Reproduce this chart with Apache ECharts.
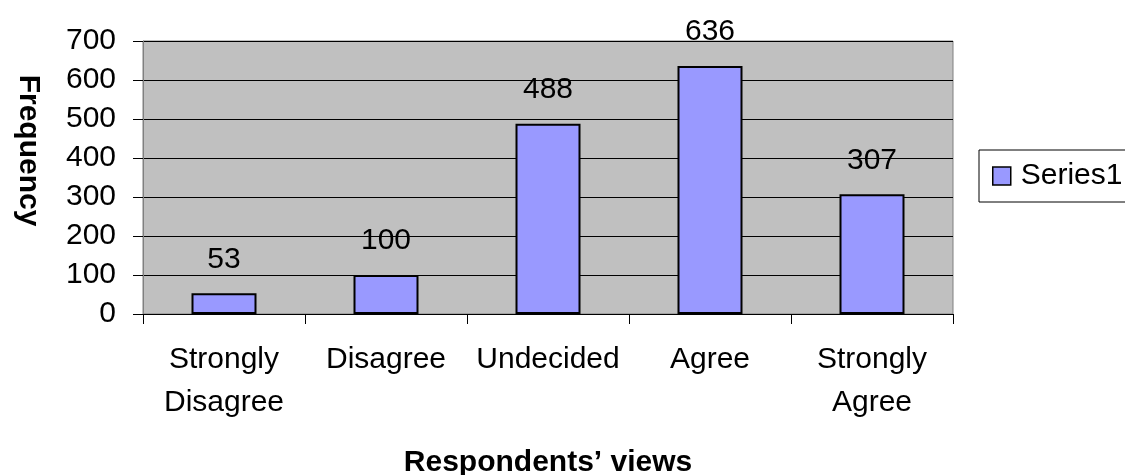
<!DOCTYPE html>
<html>
<head>
<meta charset="utf-8">
<script src="https://cdn.jsdelivr.net/npm/echarts@6/dist/echarts.min.js"></script>
<style>
html,body{margin:0;padding:0;background:#fff;overflow:hidden;}
#mychart{width:1125px;height:475px;}
</style>
</head>
<body>
<div id="mychart"></div>
<script>
// 数据
const categories = ['Strongly\nDisagree', 'Disagree', 'Undecided', 'Agree', 'Strongly\nAgree'];
const series1 = [53, 100, 488, 636, 307];
const yTicks = [0, 100, 200, 300, 400, 500, 600, 700];

const font = 'Liberation Sans, Arial, sans-serif';
let myEcharts = echarts.init(document.getElementById('mychart'));

let option = {
    animation: false,
    textStyle: { fontFamily: font },
    grid: {
        left: 143,
        top: 41,
        width: 810,
        height: 273,
        containLabel: false,
        outerBoundsMode: 'none',
        show: true,
        backgroundColor: '#c0c0c0',
        borderColor: '#808080',
        borderWidth: 1
    },
    legend: {
        data: ['Series1'],
        left: 979,
        top: 150,
        orient: 'vertical',
        icon: 'rect',
        itemWidth: 18,
        itemHeight: 18,
        itemGap: 0,
        padding: [11, 40, 11, 13],
        borderColor: '#000',
        borderWidth: 1,
        backgroundColor: '#fff',
        itemStyle: { borderColor: '#000', borderWidth: 1.5 },
        textStyle: { fontSize: 30, color: '#000', fontFamily: font, padding: [0, 0, 0, 5] }
    },
    xAxis: {
        type: 'category',
        data: categories,
        name: 'Respondents\u2019 views',
        nameLocation: 'middle',
        nameGap: 134,
        nameTextStyle: { fontSize: 30, fontWeight: 'bold', color: '#000', fontFamily: font },
        axisLine: { lineStyle: { color: '#000' } },
        axisTick: { show: true, alignWithLabel: false, length: 10, lineStyle: { color: '#000' } },
        axisLabel: { fontSize: 30, color: '#000', margin: 24, lineHeight: 43, fontFamily: font, interval: 0 }
    },
    yAxis: {
        type: 'value',
        min: 0,
        max: 700,
        interval: 100,
        name: 'Frequency',
        nameLocation: 'middle',
        nameRotate: -90,
        nameGap: 100,
        nameTextStyle: {
            fontSize: 30, fontWeight: 'bold', color: '#000', fontFamily: font,
            padding: [0, 54, 0, 0]
        },
        axisLine: { show: true, lineStyle: { color: '#808080' } },
        axisTick: { show: true, length: 10, lineStyle: { color: '#000' } },
        axisLabel: {
            fontSize: 30, color: '#000', margin: 27, fontFamily: font,
            formatter: v => yTicks.includes(v) ? String(v) : ''
        },
        splitLine: { show: true, lineStyle: { color: '#000', width: 1 } }
    },
    series: [{
        name: 'Series1',
        type: 'bar',
        data: series1,
        barWidth: 65,
        itemStyle: { color: '#9999ff', borderColor: '#000', borderWidth: 2 },
        label: { show: true, position: 'top', distance: 19, fontSize: 30, color: '#000', fontFamily: font }
    }]
};

myEcharts.setOption(option);
</script>
</body>
</html>
